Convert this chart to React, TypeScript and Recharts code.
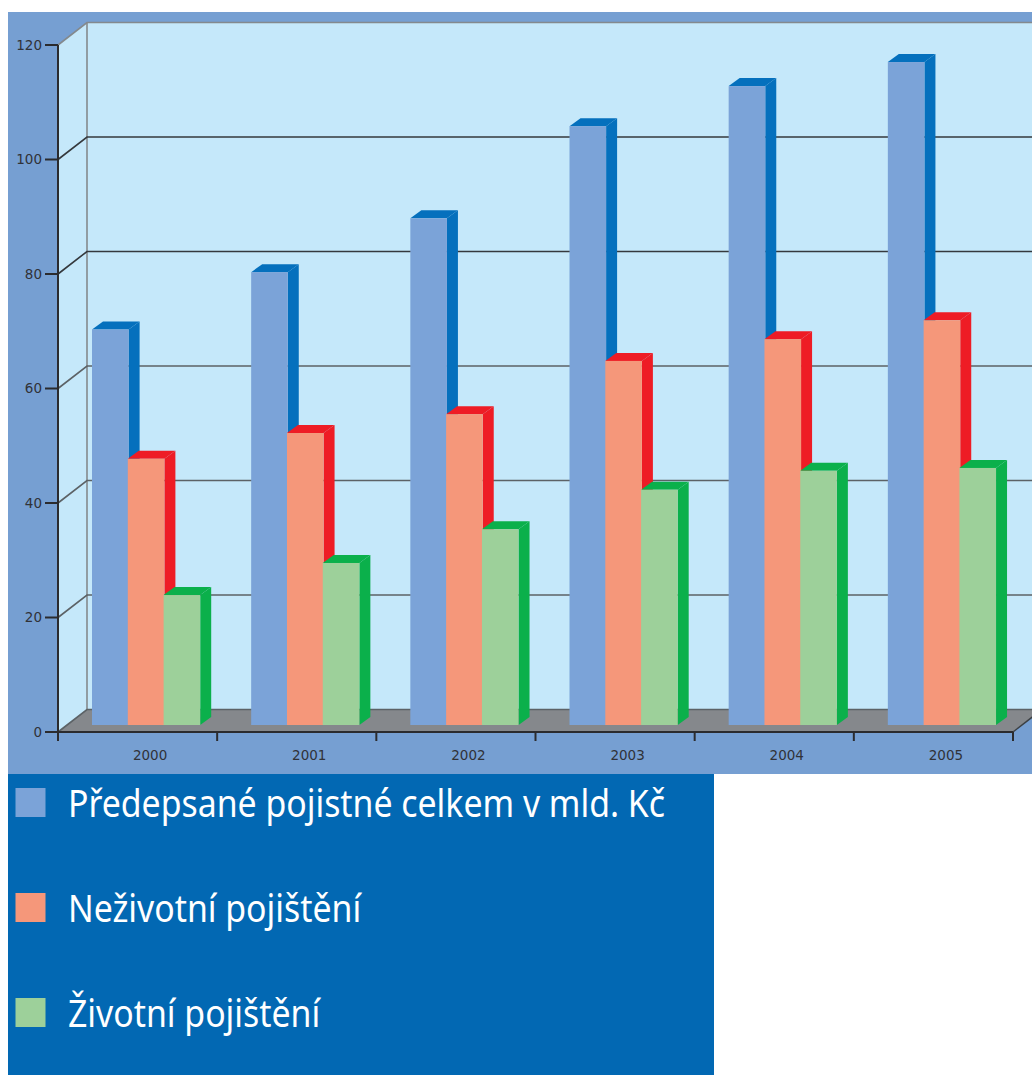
import React from 'react';
import { BarChart, Bar, XAxis, YAxis, CartesianGrid, Legend } from 'recharts';

const years = ['2000', '2001', '2002', '2003', '2004', '2005'];
const totalPremium = [69.1, 79.1, 88.5, 104.6, 111.6, 115.8];
const nonLife = [46.5, 51, 54.3, 63.6, 67.4, 70.7];
const life = [22.7, 28.3, 34.2, 41.1, 44.4, 44.9];
const yTicks = [0, 20, 40, 60, 80, 100, 120];

const rows = years.map((year, i) => ({
  year,
  total: totalPremium[i],
  nonLife: nonLife[i],
  life: life[i],
}));

const W = 1032;
const H = 1075;
const PLOT = { left: 58, right: 1013, top: 45, bottom: 732 };
const WALL_DX = 29;
const WALL_DY = -22.5;
const BAR_WIDTH = 36.6;
const BAR_FORWARD = { dx: 9, dy: -7 };
const BAR_DEPTH = { dx: 11, dy: -8 };
const AXIS_DARK = '#2b2b2e';
const TEXT = '#303238';
const BAND = (PLOT.right - PLOT.left) / years.length;

// Front face, side face and cap of one bar.
const makeBox = (sideColor: string) => (props: any) => {
  const { x, y, width, height, fill } = props;
  const l = x + BAR_FORWARD.dx;
  const t = y + BAR_FORWARD.dy;
  const r = l + width;
  const b = t + height;
  const { dx, dy } = BAR_DEPTH;
  return (
    <g>
      <polygon points={`${r},${t} ${r + dx},${t + dy} ${r + dx},${b + dy} ${r},${b}`} fill={sideColor} />
      <polygon points={`${l},${t} ${l + dx},${t + dy} ${r + dx},${t + dy} ${r},${t}`} fill={sideColor} />
      <rect x={l} y={t} width={width} height={height} fill={fill} />
    </g>
  );
};

// Gridline that runs along the side wall and then across the back wall.
const wallLine = (props: any) => {
  const { x1, y1, key } = props;
  const backY = y1 + WALL_DY;
  const stroke = y1 < 60 ? '#84898d' : y1 < 300 ? '#35393d' : '#5c6266';
  return (
    <polyline
      key={key}
      points={`${x1},${y1} ${x1 + WALL_DX},${backY} ${W + 5},${backY}`}
      fill="none"
      stroke={stroke}
      strokeWidth={1.6}
    />
  );
};

// Panel, walls and floor behind the plot.
const Backdrop = () => {
  const { left, right, top, bottom } = PLOT;
  const backX = left + WALL_DX;
  const floorY = bottom + WALL_DY;
  return (
    <svg width={W} height={H} style={{ position: 'absolute', left: 0, top: 0 }}>
      <rect x={8} y={12} width={W - 8} height={762} fill="#769fd2" />
      <polygon
        points={`${left},${top} ${backX},${top + WALL_DY} ${W},${top + WALL_DY} ${W},${floorY} ${backX},${floorY} ${left},${bottom}`}
        fill="#c5e8fa"
      />
      <polygon
        points={`${left},${bottom} ${backX},${floorY} ${right + WALL_DX},${floorY} ${right},${bottom}`}
        fill="#85888c"
      />
      <line x1={backX} y1={top + WALL_DY} x2={backX} y2={floorY} stroke="#84898d" strokeWidth={1.6} />
      <line x1={right} y1={bottom} x2={right + WALL_DX} y2={floorY} stroke="#3c4044" strokeWidth={1.4} />
    </svg>
  );
};

// Year label, with tick marks on the edges of its band rather than at its centre.
const YearTick = (props: any) => {
  const { x, payload, index } = props;
  const edge = x - BAND / 2;
  return (
    <g>
      <line x1={edge} y1={PLOT.bottom} x2={edge} y2={PLOT.bottom + 9} stroke={AXIS_DARK} strokeWidth={2} />
      {index === years.length - 1 && (
        <line x1={edge + BAND} y1={PLOT.bottom} x2={edge + BAND} y2={PLOT.bottom + 9} stroke={AXIS_DARK} strokeWidth={2} />
      )}
      <text x={x + 12.5} y={PLOT.bottom + 28} textAnchor="middle" fontFamily="DejaVu Sans" fontSize={13.5} fill={TEXT}>
        {payload.value}
      </text>
    </g>
  );
};

const LEGEND_BOX = { left: 8, top: 774, width: 706, height: 301 };
const LEGEND_STEP = 105;

const LegendPanel = (props: any) => (
  <svg width={LEGEND_BOX.width} height={LEGEND_BOX.height} style={{ display: 'block' }}>
    <rect width={LEGEND_BOX.width} height={LEGEND_BOX.height} fill="#0268b3" />
    {props.payload.map((item: any, i: number) => (
      <g key={item.value} transform={`translate(0,${i * LEGEND_STEP})`}>
        <rect x={7.5} y={14} width={30} height={29} fill={item.color} />
        <text
          transform="translate(60,43) scale(0.89,1)"
          fontFamily="Noto Sans"
          fontSize={38}
          fill="#ffffff"
        >
          {item.value}
        </text>
      </g>
    ))}
  </svg>
);

export default function App() {
  return (
    <div style={{ position: 'absolute', left: 0, top: 0, width: W, height: H, background: '#ffffff', overflow: 'hidden' }}>
      <Backdrop />
      <BarChart
        width={W}
        height={H}
        data={rows}
        margin={{ top: PLOT.top, right: W - PLOT.right, left: 0, bottom: H - PLOT.bottom - 30 }}
        barSize={BAR_WIDTH}
        barGap={-0.8}
        style={{ position: 'absolute', left: 0, top: 0 }}
      >
        <CartesianGrid vertical={false} horizontal={wallLine} />
        <XAxis
          dataKey="year"
          height={30}
          tickSize={9}
          tick={YearTick}
          interval={0}
          axisLine={{ stroke: AXIS_DARK, strokeWidth: 2 }}
          tickLine={false}
        />
        <YAxis
          width={PLOT.left}
          domain={[0, 120]}
          ticks={yTicks}
          interval={0}
          tickSize={13}
          tickMargin={3}
          axisLine={{ stroke: AXIS_DARK, strokeWidth: 2 }}
          tickLine={{ stroke: AXIS_DARK, strokeWidth: 2 }}
          tick={{ fontFamily: 'DejaVu Sans', fontSize: 13.5, fill: TEXT }}
        />
        <Legend
          layout="horizontal"
          verticalAlign="middle"
          align="center"
          itemSorter={null}
          content={LegendPanel}
          wrapperStyle={{ left: LEGEND_BOX.left, top: LEGEND_BOX.top, width: LEGEND_BOX.width, height: LEGEND_BOX.height }}
        />
        <Bar
          dataKey="total"
          name="Předepsané pojistné celkem v mld. Kč"
          fill="#7ba3d8"
          shape={makeBox('#0570bd')}
          isAnimationActive={false}
        />
        <Bar
          dataKey="nonLife"
          name="Neživotní pojištění"
          fill="#f5977a"
          shape={makeBox('#ee1c25')}
          isAnimationActive={false}
        />
        <Bar
          dataKey="life"
          name="Životní pojištění"
          fill="#9dd09a"
          shape={makeBox('#0bb04b')}
          isAnimationActive={false}
        />
      </BarChart>
    </div>
  );
}
